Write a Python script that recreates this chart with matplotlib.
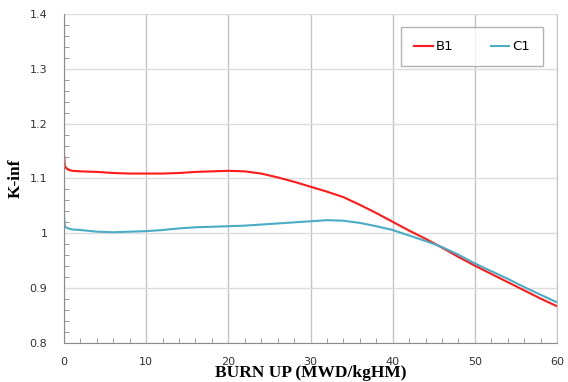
import matplotlib.pyplot as plt
from matplotlib.ticker import MultipleLocator

# Burn up (MWD/kgHM)
burnup = [0, 0.1, 0.5, 1, 2, 4, 6, 8, 10, 12, 14, 16, 18, 20, 22, 24, 26, 28, 30,
          32, 34, 36, 38, 40, 42, 44, 46, 48, 50, 52, 54, 56, 58, 60]

# K-inf per case
kinf_b1 = [1.143, 1.122, 1.116, 1.114, 1.113, 1.112, 1.110, 1.109, 1.109, 1.109,
           1.110, 1.112, 1.113, 1.114, 1.113, 1.109, 1.102, 1.094, 1.085, 1.076,
           1.066, 1.052, 1.037, 1.021, 1.005, 0.990, 0.974, 0.957, 0.941, 0.926,
           0.911, 0.896, 0.881, 0.867]
kinf_c1 = [1.030, 1.012, 1.009, 1.007, 1.006, 1.003, 1.002, 1.003, 1.004, 1.006,
           1.009, 1.011, 1.012, 1.013, 1.014, 1.016, 1.018, 1.020, 1.022, 1.024,
           1.023, 1.019, 1.013, 1.006, 0.996, 0.986, 0.975, 0.961, 0.945, 0.931,
           0.917, 0.902, 0.888, 0.874]

fig = plt.figure(figsize=(5.68, 3.82), dpi=100)
ax = fig.add_axes([0.1127, 0.1021, 0.868, 0.8613])

ax.plot(burnup, kinf_b1, color='#ff1a1a', linewidth=1.5, label='B1')
ax.plot(burnup, kinf_c1, color='#4bacc6', linewidth=1.5, label='C1')

ax.set_xlim(0, 60)
ax.set_ylim(0.8, 1.4)
ax.xaxis.set_major_locator(MultipleLocator(10))
ax.xaxis.set_minor_locator(MultipleLocator(2))
ax.yaxis.set_major_locator(MultipleLocator(0.1))
ax.yaxis.set_minor_locator(MultipleLocator(0.02))
ax.set_yticks([0.8, 0.9, 1.0, 1.1, 1.2, 1.3, 1.4])
ax.set_yticklabels(['0.8', '0.9', '1', '1.1', '1.2', '1.3', '1.4'])

# grid lines like the spreadsheet chart
ax.grid(True, axis='x', which='major', color='#c4c4c4', linewidth=1)
ax.grid(True, axis='y', which='major', color='#dcdcdc', linewidth=1)
ax.set_axisbelow(True)

ax.tick_params(which='both', direction='in', colors='#8c8c8c', labelcolor='#333333',
               labelsize=8)
ax.tick_params(which='major', length=0)
ax.tick_params(axis='x', which='major', pad=10)
ax.tick_params(axis='y', which='major', pad=12)
ax.tick_params(which='minor', length=3.5)

ax.spines['top'].set_visible(False)
for s in ['left', 'bottom']:
    ax.spines[s].set_color('#8c8c8c')
ax.spines['right'].set_color('#c4c4c4')

ax.set_xlabel('BURN UP (MWD/kgHM)', family='Liberation Serif', fontweight='bold',
              fontsize=12.5, labelpad=-1)
ax.set_ylabel('K-inf', family='Liberation Serif', fontweight='bold', fontsize=12.5,
              labelpad=4)

leg = ax.legend(loc='upper left', ncol=2, bbox_to_anchor=(0.6836, 0.5, 0.288, 0.4605),
                mode='expand', borderaxespad=0, frameon=True, fancybox=False,
                handlelength=1.4, handletextpad=0.2, borderpad=1.0, fontsize=9.5)
leg.get_frame().set_edgecolor('#a0a0a0')
leg.get_frame().set_linewidth(1)

fig.savefig('out.png', dpi=100)
